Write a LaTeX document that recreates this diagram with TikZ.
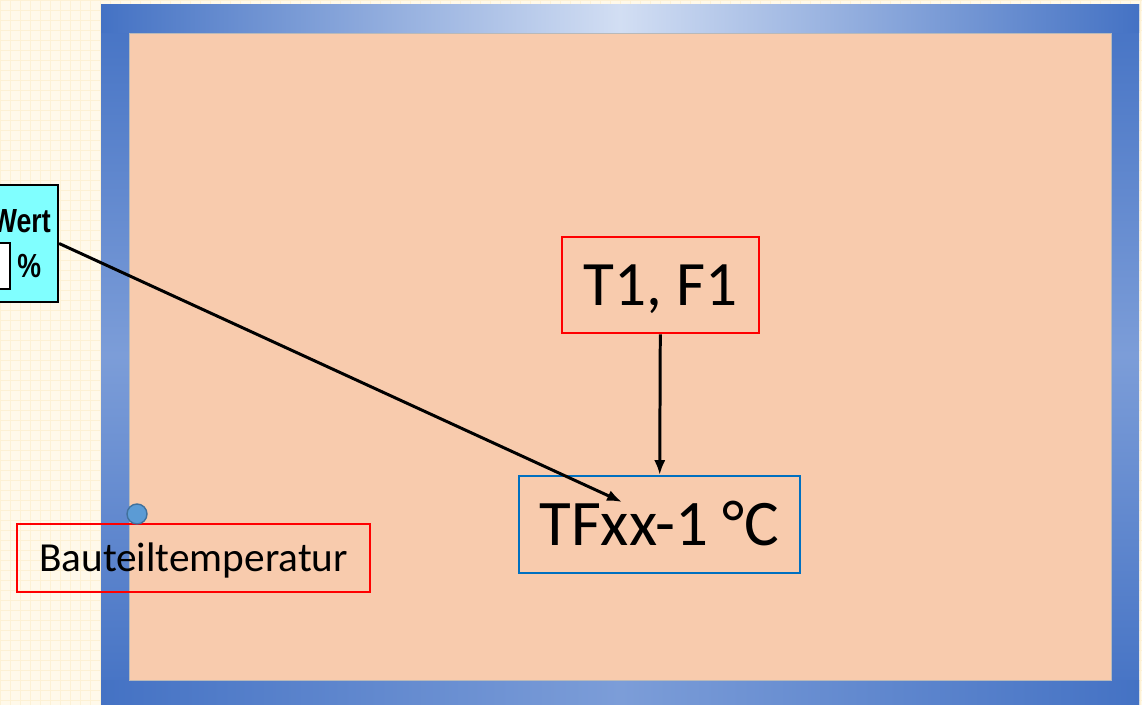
\documentclass[tikz,border=0pt]{standalone}
\usepackage{fontspec}
\usepackage{graphicx}
\usepackage{xcolor}
\setmainfont{Carlito}
\newfontfamily\arialfont{Liberation Sans}
\usetikzlibrary{arrows.meta}

\definecolor{papier}{HTML}{FFF9EA}
\definecolor{raster}{HTML}{FDF1D4}
\definecolor{pfirsich}{HTML}{F8CBAD}
\definecolor{rahmenblau}{HTML}{4472C4}
\definecolor{rahmenhell}{HTML}{D2DEF3}
\definecolor{rahmenmittel}{HTML}{7C9DD8}
\definecolor{tuerkis}{HTML}{80FFFF}
\definecolor{rotrand}{HTML}{FF0000}
\definecolor{blaurand}{HTML}{0070C0}
\definecolor{punkt}{HTML}{5B9BD5}
\definecolor{punktrand}{HTML}{41719C}

\tikzset{
  rotbox/.style={draw=rotrand, line width=1.5pt, inner sep=0pt, text depth=0pt},
  blaubox/.style={draw=blaurand, line width=1.2pt, inner sep=0pt, text depth=0pt},
  pfeil/.style={line width=1.7pt, -{Latex[length=8.5pt,width=6.5pt]}},
}

\begin{document}
\begin{tikzpicture}[x=0.02cm, y=-0.02cm]
        \useasboundingbox (0,0) rectangle (1142,705);
        \clip (0,0) rectangle (1142,705);
        % Draw the paper background
        \fill[papier] (0,0) rectangle (1142,705);
        \foreach \gx in {0,10,...,1140} \draw[raster, line width=0.3pt] (\gx,0) -- (\gx,705);
        \foreach \gy in {0,10,...,700} \draw[raster, line width=0.3pt] (0,\gy) -- (1142,\gy);
        % Draw the blue frame and the component
        \shade[top color=rahmenblau, bottom color=rahmenblau, middle color=rahmenmittel] (101,5) rectangle (129,705);
        \shade[top color=rahmenblau, bottom color=rahmenblau, middle color=rahmenmittel] (1111,5) rectangle (1139,705);
        \shade[left color=rahmenblau, right color=rahmenblau, middle color=rahmenmittel] (101,680) rectangle (1139,705);
        \shade[left color=rahmenblau, right color=rahmenblau, middle color=rahmenhell] (101,5) rectangle (1139,33);
        \filldraw[fill=pfirsich, draw=gray!55, line width=0.4pt] (129,33) rectangle (1111,680);
        % Input field on the left
        \node[draw=black, fill=tuerkis, line width=1.3pt, minimum width=2.56cm, minimum height=2.34cm, inner sep=0pt] (wertbox) at (-6,243.5) {};
        \node[anchor=base east, inner sep=0pt, font=\arialfont\bfseries\fontsize{19}{22}\selectfont] (wertlabel) at (51,233) {\scalebox{0.8}[1]{Wert}};
        \node[draw=black, fill=white, line width=1pt, minimum width=0.8cm, minimum height=0.92cm, inner sep=0pt] (feld) at (-10,266) {};
        \node[anchor=base west, inner sep=0pt, font=\arialfont\bfseries\fontsize{19}{22}\selectfont] (einheit) at (17,278) {\scalebox{0.8}[1]{\%}};
        % Labels
        \node[rotbox, text height=23.2pt, minimum width=3.94cm, minimum height=1.92cm, font=\fontsize{36}{43}\selectfont] (t1f1) at (660.5,285) {T1, F1};
        \node[blaubox, text height=23.8pt, minimum width=5.62cm, minimum height=1.94cm, font=\fontsize{37}{44}\selectfont] (tfxx) at (659.5,524.5) {TFxx-1 °C};
        \node[rotbox, text height=15.1pt, minimum width=7.06cm, minimum height=1.36cm, font=\fontsize{23.5}{28}\selectfont] (bauteil) at (193.5,558) {Bauteiltemperatur};
        \node[circle, fill=punkt, draw=punktrand, line width=0.8pt, minimum size=0.4cm, inner sep=0pt] (sensor) at (137,514) {};
        \coordinate (tip) at (622,502);
        \draw[pfeil] (t1f1) -- (tfxx);
        \draw[pfeil] (wertbox.east) -- (tip);
    \end{tikzpicture}
\end{document}
